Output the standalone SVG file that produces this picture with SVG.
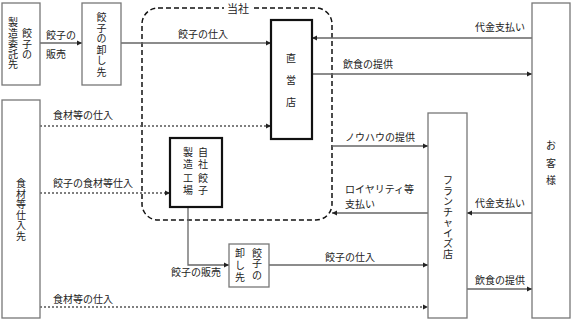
<svg xmlns="http://www.w3.org/2000/svg" width="572" height="321" viewBox="0 0 572 321">
<defs>
<marker id="ah" markerWidth="6" markerHeight="6" refX="5" refY="3" orient="auto" markerUnits="userSpaceOnUse">
<path d="M0,0.5 L5,3 L0,5.5 Z" fill="#222"/>
</marker>
<style>
text{font-family:"Noto Sans CJK JP","Noto Sans",sans-serif;font-size:10px;fill:#222;}
.v{text-anchor:middle;}
.box{fill:#fff;stroke:#777;stroke-width:1.3;}
.tbox{fill:#fff;stroke:#111;stroke-width:2.2;}
.ln{fill:none;stroke:#666;stroke-width:1.3;}
.dot{fill:none;stroke:#555;stroke-width:1.3;stroke-dasharray:2,2;}
</style>
</defs>
<rect width="572" height="321" fill="#fff"/>

<g id="company">
<rect x="142" y="8" width="190" height="212" rx="16" fill="none" stroke="#111" stroke-width="1.5" stroke-dasharray="5,3"/>
<rect x="224" y="2" width="28" height="12" fill="#fff"/>
<text x="238" y="13" class="v" style="font-size:11px">当社</text>
</g>

<g id="connectors">
<line class="ln" x1="40" y1="43" x2="82" y2="43" marker-end="url(#ah)"/>
<line class="ln" x1="121" y1="43" x2="271" y2="43" marker-end="url(#ah)"/>
<line class="ln" x1="532" y1="38" x2="312" y2="38" marker-end="url(#ah)"/>
<line class="ln" x1="312" y1="74" x2="532" y2="74" marker-end="url(#ah)"/>
<line class="dot" x1="40" y1="126" x2="271" y2="126" marker-end="url(#ah)"/>
<line class="dot" x1="40" y1="193" x2="170" y2="193" marker-end="url(#ah)"/>
<line class="ln" x1="332" y1="146" x2="428" y2="146" marker-end="url(#ah)"/>
<line class="ln" x1="428" y1="213" x2="332" y2="213" marker-end="url(#ah)"/>
<line class="ln" x1="532" y1="213" x2="467" y2="213" marker-end="url(#ah)"/>
<polyline class="ln" points="188,207 188,265 229,265" marker-end="url(#ah)"/>
<line class="ln" x1="269" y1="265" x2="428" y2="265" marker-end="url(#ah)"/>
<line class="dot" x1="40" y1="307" x2="428" y2="307" marker-end="url(#ah)"/>
<line class="ln" x1="467" y1="289" x2="532" y2="289" marker-end="url(#ah)"/>
<text x="46" y="39">餃子の</text>
<text x="46" y="58">販売</text>
<text x="178" y="38">餃子の仕入</text>
<text x="475" y="31">代金支払い</text>
<text x="343" y="68">飲食の提供</text>
<text x="53" y="119">食材等の仕入</text>
<text x="53" y="187">餃子の食材等仕入</text>
<text x="345" y="141">ノウハウの提供</text>
<text x="345" y="193">ロイヤリティ等</text>
<text x="345" y="208">支払い</text>
<text x="475" y="207">代金支払い</text>
<text x="171" y="276">餃子の販売</text>
<text x="325" y="261">餃子の仕入</text>
<text x="53" y="303">食材等の仕入</text>
<text x="475" y="284">飲食の提供</text>
</g>

<g id="seizou-itakusaki">
<rect class="box" x="2" y="3" width="38" height="82"/>
<text class="v"><tspan x="27" y="37">餃</tspan><tspan x="27" y="47.5">子</tspan><tspan x="27" y="58">の</tspan></text>
<text class="v"><tspan x="13" y="26">製</tspan><tspan x="13" y="36.5">造</tspan><tspan x="13" y="47">委</tspan><tspan x="13" y="57.5">託</tspan><tspan x="13" y="68">先</tspan></text>
</g>

<g id="oroshisaki1">
<rect class="box" x="82" y="3" width="39" height="82"/>
<text class="v"><tspan x="101.5" y="21">餃</tspan><tspan x="101.5" y="32">子</tspan><tspan x="101.5" y="42">の</tspan><tspan x="101.5" y="54">卸</tspan><tspan x="101.5" y="64">し</tspan><tspan x="101.5" y="76">先</tspan></text>
</g>

<g id="chokueiten">
<rect class="tbox" x="271" y="20" width="41" height="119"/>
<text class="v"><tspan x="291" y="62">直</tspan><tspan x="291" y="84">営</tspan><tspan x="291" y="106">店</tspan></text>
</g>

<g id="okyakusama">
<rect class="box" x="532" y="3" width="38" height="315"/>
<text class="v"><tspan x="551" y="149">お</tspan><tspan x="551" y="167">客</tspan><tspan x="551" y="184">様</tspan></text>
</g>

<g id="shokuzai-shiiresaki">
<rect class="box" x="2" y="100" width="38" height="218"/>
<text class="v"><tspan x="21" y="187">食</tspan><tspan x="21" y="197.5">材</tspan><tspan x="21" y="208">等</tspan><tspan x="21" y="218.5">仕</tspan><tspan x="21" y="229">入</tspan><tspan x="21" y="239.5">先</tspan></text>
</g>

<g id="factory">
<rect class="tbox" x="170" y="138" width="52" height="69"/>
<text class="v"><tspan x="203" y="156">自</tspan><tspan x="203" y="168">社</tspan><tspan x="203" y="182">餃</tspan><tspan x="203" y="194">子</tspan></text>
<text class="v"><tspan x="188" y="156">製</tspan><tspan x="188" y="168">造</tspan><tspan x="188" y="182">工</tspan><tspan x="188" y="194">場</tspan></text>
</g>

<g id="franchise">
<rect class="box" x="428" y="113" width="39" height="205"/>
<text class="v"><tspan x="448" y="184">フ</tspan><tspan x="448" y="194.5">ラ</tspan><tspan x="448" y="205">ン</tspan><tspan x="448" y="215.5">チ</tspan><tspan x="448" y="226">ャ</tspan><tspan x="448" y="236.5">イ</tspan><tspan x="448" y="247">ズ</tspan><tspan x="448" y="257.5">店</tspan></text>
</g>

<g id="oroshisaki2">
<rect class="box" x="229" y="244" width="40" height="43"/>
<text class="v"><tspan x="257" y="257">餃</tspan><tspan x="257" y="267">子</tspan><tspan x="257" y="279">の</tspan></text>
<text class="v"><tspan x="240" y="257">卸</tspan><tspan x="240" y="269">し</tspan><tspan x="240" y="281">先</tspan></text>
</g>
</svg>
